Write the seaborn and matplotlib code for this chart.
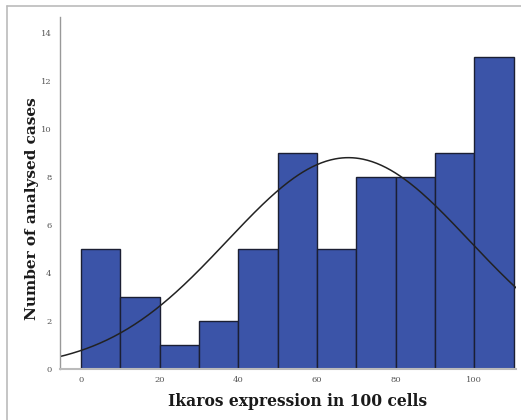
import numpy as np
import pandas as pd
import seaborn as sns
import matplotlib
matplotlib.use("Agg")
import matplotlib.pyplot as plt
from matplotlib.lines import Line2D

# Data
bin_edges = [0, 10, 20, 30, 40, 50, 60, 70, 80, 90, 100, 110]
counts = [5, 3, 1, 2, 5, 9, 5, 8, 8, 9, 13]
x_ticks = [0, 20, 40, 60, 80, 100]
y_ticks = [0, 2, 4, 6, 8, 10, 12, 14]
normal_mean = 68.0
normal_sd = 30.8
x_label = "Ikaros expression in 100 cells"
y_label = "Number of analysed cases"

sns.set_style("white")
plt.rcParams['font.family'] = ['DejaVu Serif', 'Liberation Serif']

mids = [(bin_edges[i] + bin_edges[i + 1]) / 2 for i in range(len(counts))]
df = pd.DataFrame({"value": mids, "count": counts})

fig = plt.figure(figsize=(5.21, 4.20), dpi=100)
ax = fig.add_axes([60 / 521, 1 - 369 / 420, (516 - 60) / 521, (369 - 17) / 420])

sns.histplot(data=df, x="value", weights="count", bins=bin_edges, ax=ax,
             color="#3B54A8", alpha=1.0, edgecolor="#1b1f33", linewidth=1.0)

n_total = sum(counts)
width = bin_edges[1] - bin_edges[0]
xs = np.linspace(-6, 111, 400)
ys = n_total * width / (normal_sd * np.sqrt(2 * np.pi)) * np.exp(-(xs - normal_mean) ** 2 / (2 * normal_sd ** 2))
sns.lineplot(x=xs, y=ys, ax=ax, color="#222222", linewidth=1.1)

ax.set_xlim(-5.3, 110.6)
ax.set_ylim(0, 14.67)
ax.set_xticks(x_ticks)
ax.set_yticks(y_ticks)
ax.tick_params(axis='both', labelsize=6, labelcolor="#555555", color="#777777",
               length=3, width=0.8, direction='out', pad=2)
ax.tick_params(axis='y', length=4)
for s in ["top", "right"]:
    ax.spines[s].set_visible(False)
ax.spines["left"].set_color("#999999")
ax.spines["bottom"].set_color("#bbbbbb")
ax.spines["left"].set_linewidth(1.0)
ax.spines["bottom"].set_linewidth(1.5)

ax.set_xlabel(x_label, fontsize=11.2, fontweight='bold', color="#1a1a1a")
ax.set_ylabel(y_label, fontsize=11.0, fontweight='bold', color="#1a1a1a")
ax.xaxis.set_label_coords(0.52, -0.068)
ax.yaxis.set_label_coords(-0.046, 0.455)

# outer frame lines (left and top)
fig.add_artist(Line2D([7 / 521, 7 / 521], [0, 1 - 6 / 420], transform=fig.transFigure,
                      color="#bbbbbb", linewidth=1.2))
fig.add_artist(Line2D([7 / 521, 1], [1 - 6 / 420, 1 - 6 / 420], transform=fig.transFigure,
                      color="#bbbbbb", linewidth=1.2))

fig.savefig("out.png", dpi=100)
